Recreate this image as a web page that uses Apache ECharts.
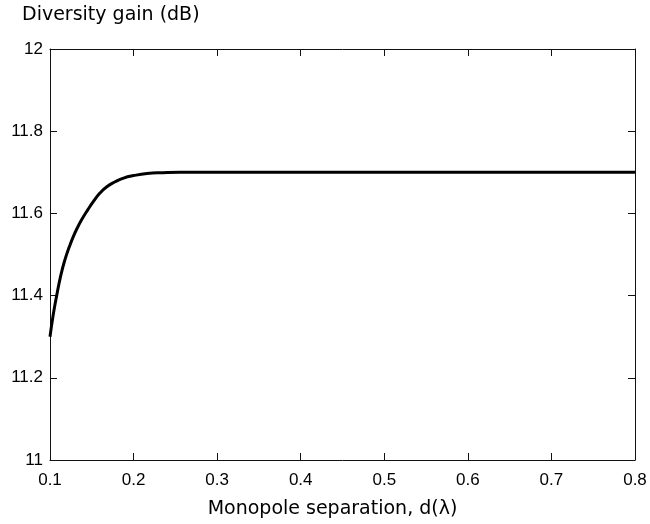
<!DOCTYPE html>
<html><head><meta charset="utf-8">
<script src="https://cdn.jsdelivr.net/npm/echarts@6/dist/echarts.min.js"></script>
<style>html,body{margin:0;padding:0;background:#fff}#c{width:650px;height:524px}</style>
</head><body><div id="c"></div>
<script>
var separation = [0.1, 0.104, 0.108, 0.113, 0.118, 0.123, 0.128, 0.133, 0.138, 0.145, 0.152, 0.16, 0.168, 0.178, 0.188, 0.2, 0.216, 0.235, 0.256, 0.28, 0.3, 0.4, 0.5, 0.6, 0.7, 0.8];
var gain = [11.30, 11.355, 11.40, 11.45, 11.488, 11.518, 11.544, 11.566, 11.585, 11.608, 11.629, 11.65, 11.665, 11.677, 11.686, 11.692, 11.697, 11.699, 11.700, 11.700, 11.700, 11.700, 11.700, 11.700, 11.700, 11.700];
var xTicks = [0.1, 0.8, 0.1];
var yTicks = [11, 12, 0.2];
var font = '"DejaVu Sans", sans-serif';
var tickFont = '"Liberation Sans", Arial, sans-serif';
var chart = echarts.init(document.getElementById('c'));
var axLine = {show: true, lineStyle: {color: '#111', width: 1}};
var tick = {show: true, inside: true, length: 7, lineStyle: {color: '#111'}};
chart.setOption({
  animation: false,
  backgroundColor: '#fff',
  title: {text: 'Diversity gain (dB)', left: 22, top: 6, padding: 0, textStyle: {fontFamily: font, fontSize: 19, fontWeight: 'normal', color: '#000'}},
  grid: {left: 50, right: 15, top: 49, bottom: 63},
  xAxis: [{
    type: 'value', min: xTicks[0], max: xTicks[1], interval: xTicks[2],
    name: 'Monopole separation, d(\u03bb)', nameLocation: 'middle', nameGap: 40,
    nameTextStyle: {fontFamily: font, fontSize: 19, color: '#000', padding: [0, 20, 0, 0]},
    axisLine: axLine, axisTick: tick, splitLine: {show: false},
    axisLabel: {fontFamily: tickFont, fontSize: 17, color: '#000', margin: 12, formatter: function(v){return v.toFixed(1);}}
  }, {
    type: 'value', position: 'top', min: xTicks[0], max: xTicks[1], interval: xTicks[2],
    axisLine: axLine, axisTick: tick, splitLine: {show: false}, axisLabel: {show: false}
  }],
  yAxis: [{
    type: 'value', min: yTicks[0], max: yTicks[1], interval: yTicks[2],
    axisLine: axLine, axisTick: tick, splitLine: {show: false},
    axisLabel: {fontFamily: tickFont, fontSize: 17, color: '#000', margin: 7, formatter: function(v){return String(Math.round(v*10)/10);}}
  }, {
    type: 'value', position: 'right', min: yTicks[0], max: yTicks[1], interval: yTicks[2],
    axisLine: axLine, axisTick: tick, splitLine: {show: false}, axisLabel: {show: false}
  }],
  series: [{
    type: 'line', smooth: true, symbol: 'none', xAxisIndex: 0, yAxisIndex: 0,
    lineStyle: {color: '#000', width: 3},
    data: separation.map(function(x, i){return [x, gain[i]];})
  }]
});
</script></body></html>
